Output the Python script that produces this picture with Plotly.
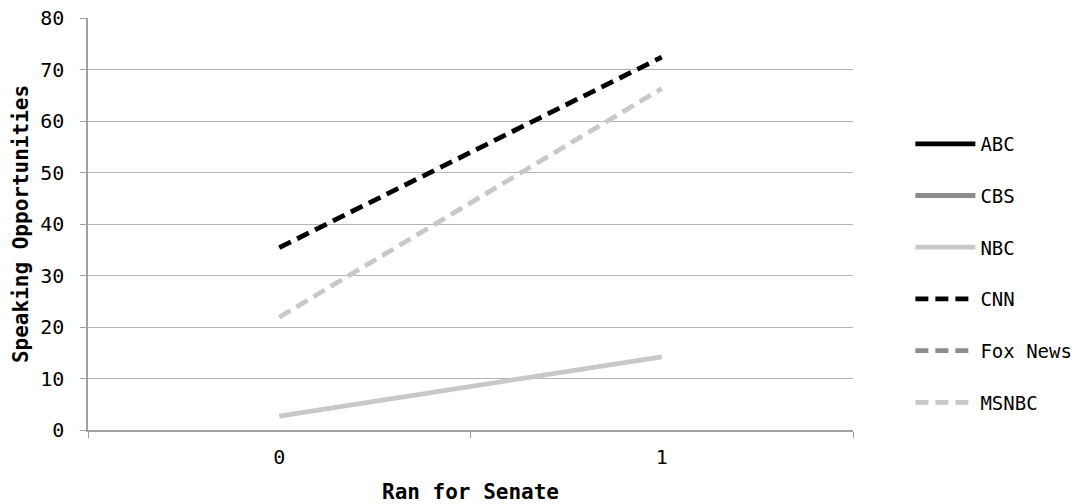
import plotly.graph_objects as go

categories = ["0", "1"]
series_names = ["ABC", "CBS", "NBC", "CNN", "Fox News", "MSNBC"]
abc = [None, None]
cbs = [None, None]
nbc = [2.7, 14.2]
cnn = [35.4, 72.4]
fox = [None, None]
msnbc = [21.9, 66.3]

values = [abc, cbs, nbc, cnn, fox, msnbc]
colors = ["#000000", "#8c8c8c", "#c8c8c8", "#000000", "#8c8c8c", "#c8c8c8"]
dashes = ["solid", "solid", "solid", "13px,7px", "13px,7px", "13px,7px"]

FONT = "DejaVu Sans Mono"

fig = go.Figure()
for i, (name, vals) in enumerate(zip(series_names, values)):
    fig.add_trace(go.Scatter(
        x=categories, y=vals, name=name, mode="lines",
        line=dict(color=colors[i], width=4.8, dash=dashes[i]),
        legendgroup=name, showlegend=True,
    ))

fig.update_layout(
    width=1081, height=504,
    margin=dict(l=88, r=228, t=18, b=74, autoexpand=False),
    plot_bgcolor="white", paper_bgcolor="white",
    font=dict(family=FONT, size=20, color="#000000"),
    legend=dict(
        x=1.075, xanchor="left", y=0.38, yanchor="middle",
        font=dict(family=FONT, size=19),
        traceorder="grouped", tracegroupgap=24,
        itemwidth=60,
    ),
    xaxis=dict(
        type="category", categoryorder="array", categoryarray=categories,
        range=[-0.5, 1.5], tickson="boundaries", automargin=False,
        ticks="outside", ticklen=6, tickcolor="#a0a0a0",
        ticklabelstandoff=8,
        showline=True, linecolor="#a0a0a0", linewidth=1.5,
        showgrid=False, zeroline=False,
        title=dict(text="<b>Ran for Senate</b>", font=dict(family=FONT, size=21), standoff=17),
    ),
    yaxis=dict(
        range=[0, 80], dtick=10, tick0=0, automargin=False,
        ticks="outside", ticklen=6, tickcolor="#a0a0a0",
        ticklabelstandoff=12,
        showline=True, linecolor="#a0a0a0", linewidth=1.5,
        showgrid=True, gridcolor="#b4b4b4", gridwidth=1.2,
        zeroline=False,
        title=dict(text="<b>Speaking Opportunities</b>", font=dict(family=FONT, size=21), standoff=6),
    ),
)

fig.write_html("out.html")
